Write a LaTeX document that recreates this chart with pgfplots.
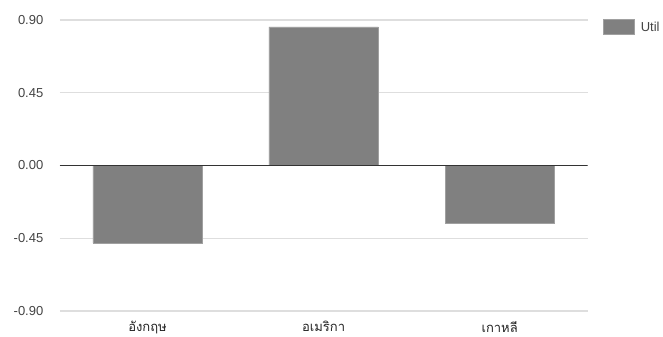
\documentclass[border=0pt]{standalone}
\usepackage{pgfplots}
\pgfplotsset{compat=1.18}
\usepackage{fontspec}
\setmainfont{Liberation Sans}
\newfontfamily\thaifont[Script=Thai]{Loma}

\definecolor{barfill}{RGB}{128,128,128}
\definecolor{baredge}{RGB}{160,160,160}
\definecolor{gridc}{RGB}{222,222,222}
\definecolor{labelc}{RGB}{68,68,68}
\definecolor{catc}{RGB}{34,34,34}

\begin{document}
\begin{tikzpicture}
\begin{axis}[
  scale only axis,
  width=528.2pt, height=291pt,
  xmin=-0.5, xmax=2.5,
  ymin=-0.9, ymax=0.9,
  ybar, bar width=109.3pt,
  xtick=data,
  xticklabels={อังกฤษ, อเมริกา, เกาหลี},
  ytick={-0.9,-0.45,0,0.45,0.9},
  major tick length=0pt,
  axis line style={draw=none},
  ymajorgrids,
  grid style={draw=gridc, line width=1.2pt},
  /pgf/number format/assume math mode=true,
  yticklabel style={/pgf/number format/fixed, /pgf/number format/fixed zerofill,
    /pgf/number format/precision=2, anchor=east, inner sep=0pt, xshift=-16pt,
    font=\fontsize{13}{15}\selectfont, text=labelc},
  xticklabel style={anchor=north, inner sep=0pt, yshift=-10pt,
    font=\fontsize{13}{15}\selectfont\thaifont, text=catc},
  legend style={at={(rel axis cs:1.0284,1.00344)}, anchor=north west, draw=none,
    fill=none, inner sep=0pt, font=\fontsize{13}{15}\selectfont, text=labelc,
    /tikz/every odd column/.append style={column sep=6.7pt},
    nodes={inner sep=0pt}},
  legend image code/.code={
    \path[fill=barfill, draw=baredge, line width=0.6pt, fill opacity=1, draw opacity=1]
      (0pt,-7.6pt) rectangle (30.6pt,7.6pt);},
]
\addplot[fill=barfill, draw=baredge, line width=0.6pt] coordinates {(0,-0.48) (1,0.857) (2,-0.36)};
\addlegendentry{Util}
\draw[black!80, line width=1pt] (axis cs:-0.5,0) -- (axis cs:2.5,0);
\coordinate (bbsw) at (rel axis cs:-0.11265,-0.08935);
\coordinate (bbne) at (rel axis cs:1.14256,1.06873);
\end{axis}
\path[use as bounding box] (bbsw) rectangle (bbne);
\end{tikzpicture}
\end{document}
